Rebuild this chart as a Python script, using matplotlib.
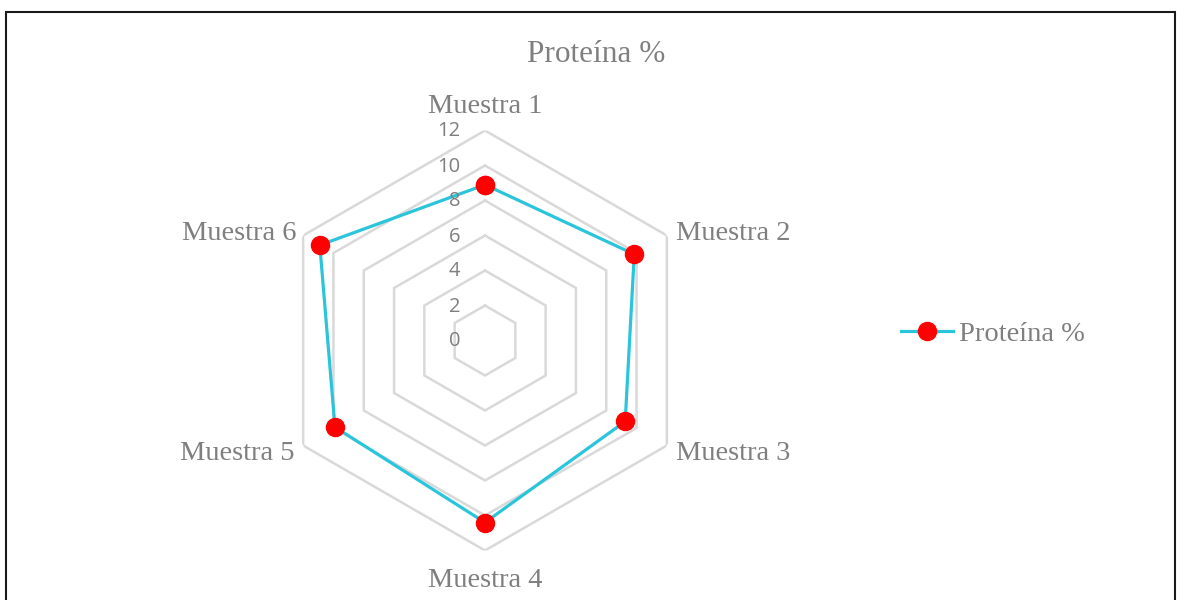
import numpy as np
import matplotlib
matplotlib.use("Agg")
import matplotlib.pyplot as plt
from matplotlib.transforms import offset_copy
from matplotlib.patches import Rectangle

categories = ["Muestra 1", "Muestra 2", "Muestra 3", "Muestra 4", "Muestra 5", "Muestra 6"]
values = [8.9, 9.85, 9.25, 10.4, 9.9, 10.9]
series_name = "Proteína %"
title = "Proteína %"
rticks = [0, 2, 4, 6, 8, 10, 12]

GREY = "#7f7f7f"
GRID = "#d9d9d9"
LINE = "#2bc5db"
MARK = "#ff0000"
SERIF = "Liberation Serif"

W, H = 1177, 600
fig = plt.figure(figsize=(W / 100, H / 100), dpi=100)

cx, cy, R = 485, 340.5, 210
ax = fig.add_axes([(cx - R) / W, (H - cy - R) / H, 2 * R / W, 2 * R / H], projection="polar")
ax.set_theta_zero_location("N")
ax.set_theta_direction(-1)
ax.set_ylim(0, 12)
ax.grid(False)
ax.set_xticks([])
ax.set_yticks([])
ax.spines["polar"].set_visible(False)
ax.patch.set_alpha(0)

n = len(categories)
angles = np.arange(n) * 2 * np.pi / n
closed = np.append(angles, angles[0])

# hexagonal grid
for lvl in rticks[1:]:
    ax.plot(closed, [lvl] * (n + 1), color=GRID, lw=1.8, zorder=1, solid_joinstyle="miter")

# data
vals = np.append(values, values[0])
line, = ax.plot(closed, vals, color=LINE, lw=2.3, zorder=3, marker="o",
                markersize=13, markerfacecolor=MARK, markeredgecolor=MARK, label=series_name)

# radial tick labels
for v in rticks:
    tr = offset_copy(ax.transData, fig=fig, x=-25, y=-1, units="dots")
    ax.text(0, v, str(v), transform=tr, ha="right", va="center", fontsize=14.5,
            family="Open Sans", color=GREY)

# category labels
offsets = [(0, 24, "center"), (9, 2, "left"), (9, -8, "left"),
           (0, -30, "center"), (-9, -8, "right"), (-7, 2, "right")]
for a, lab, (dx, dy, ha) in zip(angles, categories, offsets):
    tr = offset_copy(ax.transData, fig=fig, x=dx, y=dy, units="dots")
    ax.text(a, 12, lab, transform=tr, ha=ha, va="center", fontsize=20.5,
            family=SERIF, color=GREY)

# title
fig.text(596 / W, 1 - 54 / H, title, ha="center", va="center", fontsize=22.5,
         family=SERIF, color=GREY)

# legend
leg = fig.legend(handles=[line], loc="center left", bbox_to_anchor=(901 / W, 1 - 334 / H),
                 frameon=False, borderaxespad=0, borderpad=0, handlelength=1.84,
                 handletextpad=0.18, prop={"family": SERIF, "size": 20.5})
for t in leg.get_texts():
    t.set_color(GREY)

# outer border
fig.add_artist(Rectangle((6 / W, -0.1), (1175 - 6) / W, 1.1 - 12 / H,
                         transform=fig.transFigure, fill=False, edgecolor="#1a1a1a",
                         lw=1.5, clip_on=False))

fig.savefig("out.png", dpi=100)
